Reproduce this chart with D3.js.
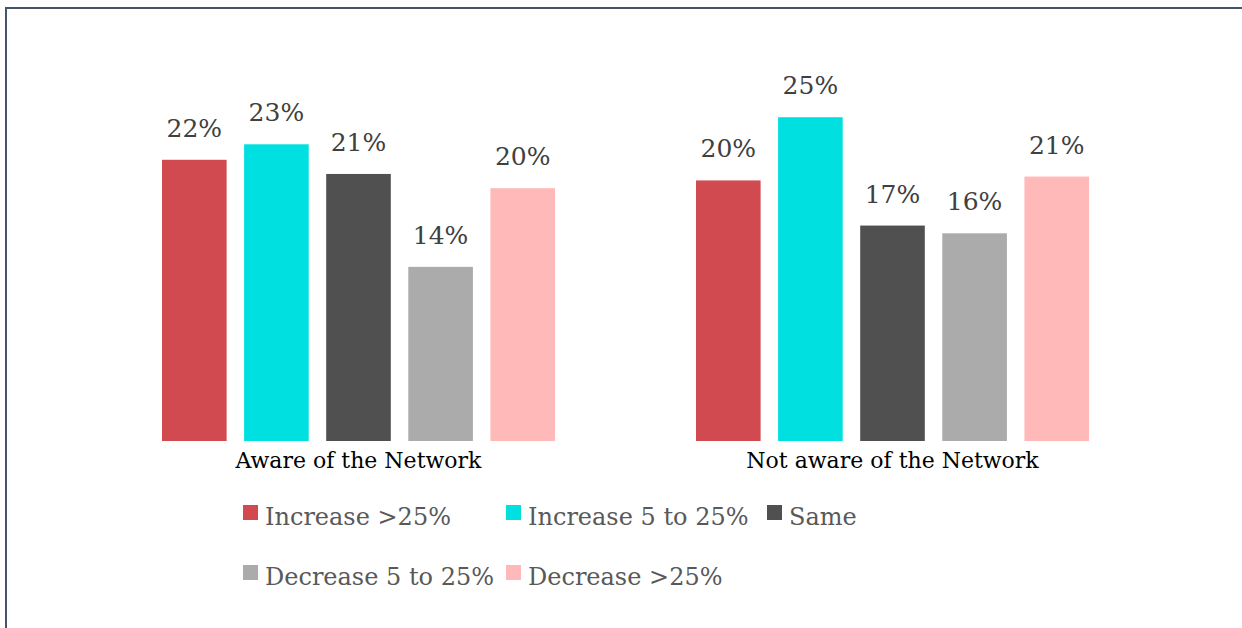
<!DOCTYPE html>
<html>
<head>
<meta charset="utf-8">
<script src="https://cdn.jsdelivr.net/npm/d3@7"></script>
<style>
  html, body { margin: 0; padding: 0; background: #fff; }
  svg { display: block; }
</style>
</head>
<body>
<svg id="chart" width="1242" height="628"></svg>
<script>
const groups = ["Aware of the Network", "Not aware of the Network"];
const seriesNames = ["Increase >25%", "Increase 5 to 25%", "Same", "Decrease 5 to 25%", "Decrease >25%"];
const seriesColors = ["#D04A50", "#00E0E0", "#505050", "#ABABAB", "#FFB9B9"];
const increaseMore25 = [21.8, 20.2];
const increase5to25 = [23.0, 25.1];
const same = [20.7, 16.7];
const decrease5to25 = [13.5, 16.1];
const decreaseMore25 = [19.6, 20.5];
const seriesValues = [increaseMore25, increase5to25, same, decrease5to25, decreaseMore25];

const FONT = "'DejaVu Serif', Georgia, serif";
const svg = d3.select("#chart");

// frame
svg.append("rect")
  .attr("x", 6).attr("y", 8).attr("width", 1400).attr("height", 800)
  .attr("fill", "none").attr("stroke", "#44546A").attr("stroke-width", 2);

const x0 = d3.scaleBand().domain(groups).range([91.5, 1159.5])
  .paddingInner(0.264).paddingOuter(0.132);
const x1 = d3.scaleBand().domain(d3.range(seriesNames.length))
  .range([0, x0.bandwidth()]).paddingInner(0.213).paddingOuter(0);
const y = d3.scaleLinear().domain([0, 30]).range([441, 54]);

const g = svg.append("g");
groups.forEach((grp, gi) => {
  const gg = g.append("g").attr("transform", `translate(${x0(grp)},0)`);
  seriesValues.forEach((vals, si) => {
    const v = vals[gi];
    gg.append("rect")
      .attr("x", x1(si)).attr("width", x1.bandwidth())
      .attr("y", y(v)).attr("height", y(0) - y(v))
      .attr("fill", seriesColors[si]);
    gg.append("text")
      .attr("x", x1(si) + x1.bandwidth() / 2)
      .attr("y", y(v) - 23)
      .attr("text-anchor", "middle")
      .attr("font-family", FONT).attr("font-size", 25)
      .attr("fill", "#404040")
      .text(Math.round(v) + "%");
  });
});

// category axis labels
const xAxis = d3.axisBottom(x0).tickSize(0).tickPadding(0);
const ax = svg.append("g").attr("transform", "translate(0,441)").call(xAxis);
ax.select(".domain").remove();
ax.selectAll("text")
  .attr("dy", 0).attr("y", 27)
  .attr("font-family", FONT).attr("font-size", 22).attr("fill", "#000");

// legend
const legendPos = [[243, 0], [506, 0], [767, 0], [243, 1], [506, 1]];
const leg = svg.append("g");
seriesNames.forEach((name, i) => {
  const [lx, row] = legendPos[i];
  const ly = 525 + row * 60;
  leg.append("rect").attr("x", lx).attr("y", ly - 20).attr("width", 15).attr("height", 15)
    .attr("fill", seriesColors[i]);
  leg.append("text").attr("x", lx + 22).attr("y", ly)
    .attr("font-family", FONT).attr("font-size", 24).attr("fill", "#595959")
    .text(name);
});
</script>
</body>
</html>
